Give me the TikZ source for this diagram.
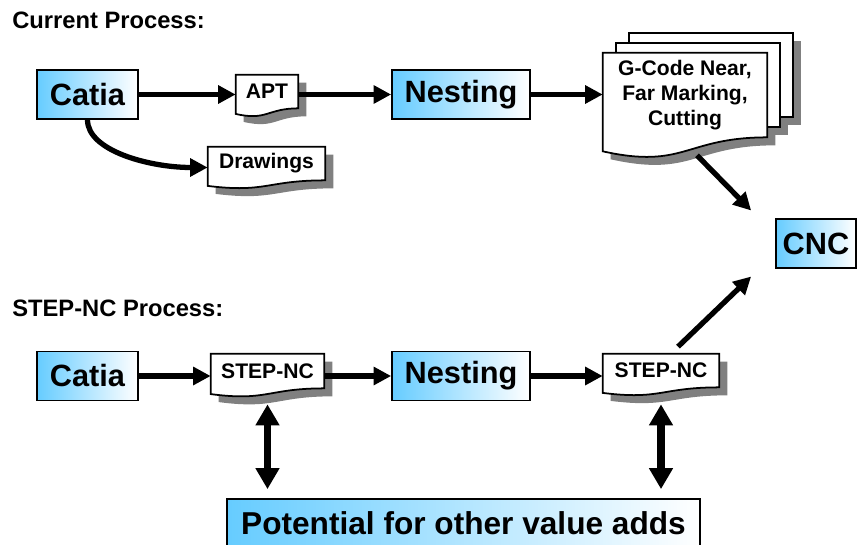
\documentclass[tikz,border=0pt]{standalone}
\usepackage{fontspec}
\setmainfont{Liberation Sans}
\usetikzlibrary{arrows.meta,calc,backgrounds}

\definecolor{boxblue}{RGB}{102,204,255}
\definecolor{shadowgray}{RGB}{128,128,128}

% outline of a document page with a wavy bottom, around node #1
\newcommand{\docpath}[1]{(#1.north west) -- (#1.north east) -- (#1.south east)
  .. controls (#1.south) and ($(#1.south)!-0.38!(#1.north)$)
  .. ($(#1.south west)!-0.165!(#1.north west)$) -- cycle}

\begin{document}
\begin{tikzpicture}[x=0.02cm, y=-0.02cm,
	proc/.style={draw, line width=1pt, left color=boxblue, right color=white, inner sep=0pt,
		minimum height=0.98cm, font=\fontsize{17.5}{20}\selectfont\bfseries},
	doc/.style={inner sep=0pt, align=center, font=\fontsize{12}{14.2}\selectfont\bfseries},
	docline/.style={draw, line width=1pt},
	ttl/.style={anchor=base west, inner sep=0pt, font=\fontsize{13.5}{16}\selectfont\bfseries},
	arr/.style={line width=3pt, -{Triangle[length=10pt,width=10pt]}},
	dbl/.style={line width=4.5pt, {Triangle[length=12pt,width=13pt]}-{Triangle[length=12pt,width=13pt]}}]
	\clip (0,0) rectangle (857,544);

	\node[ttl] (curttl) at (12,29) {Current Process:};
	\node[ttl] (stepttl) at (12,316) {STEP-NC Process:};

	% current process
	\node[proc, minimum width=2.02cm] (catia1) at (87.5,94.5) {Catia};
	\node[doc, minimum width=1.24cm, minimum height=0.66cm] (apt) at (267,91.5) {APT};
	\node[proc, minimum width=2.76cm] (nest1) at (461,94.5) {Nesting};
	\node[doc, minimum width=3.28cm, minimum height=1.68cm] (gcode) at (685,95) {G-Code Near,\\Far Marking,\\Cutting};
	\node[doc, minimum width=2.34cm, minimum height=0.66cm] (drawings) at (266.5,163.5) {Drawings};
	\node[proc, minimum width=1.6cm] (cnc) at (816,243.5) {CNC};

	% STEP-NC process
	\node[proc, minimum width=2.02cm] (catia2) at (87.5,376) {Catia};
	\node[doc, minimum width=2.26cm, minimum height=0.68cm] (step1) at (267.5,371) {STEP-NC};
	\node[proc, minimum width=2.76cm] (nest2) at (461,376) {Nesting};
	\node[doc, minimum width=2.32cm, minimum height=0.66cm] (step2) at (661,370.5) {STEP-NC};
	\node[proc, minimum width=9.46cm, font=\fontsize{18}{21}\selectfont\bfseries] (potential) at (463.5,523.5) {Potential for other value adds};

	\begin{scope}[on background layer]
		\foreach \dx/\dy in {26/-20,13/-10}
			\fill[shadowgray] ([shift={(\dx+8,\dy+8)}]gcode.north west) rectangle ([shift={(\dx+8,\dy+8)}]gcode.south east);
		\foreach \d in {apt,drawings,gcode,step1,step2}
			\fill[shadowgray, transform canvas={shift={(8,8)}}] \docpath{\d};
		\foreach \dx/\dy in {26/-20,13/-10}
			\draw[docline, fill=white] ([shift={(\dx,\dy)}]gcode.north west) rectangle ([shift={(\dx,\dy)}]gcode.south east);
		\foreach \d in {apt,drawings,gcode,step1,step2}
			\draw[docline, fill=white] \docpath{\d};
	\end{scope}

	\coordinate (cncup) at ([shift={(-24,-33)}]cnc.west);
	\coordinate (cnclow) at ([shift={(-24,33)}]cnc.west);

	\draw[arr] (catia1.east) -- (catia1.east -| apt.west);
	\draw[arr] (catia1.east -| apt.east) -- (nest1.west);
	\draw[arr] (nest1.east) -- (nest1.east -| gcode.west);
	\draw[arr] (catia1.south) .. controls +(0,31) and +(-58,0) .. ([shift={(0,4)}]drawings.west);
	\draw[arr] ([shift={(12,18)}]gcode.south) -- (cncup);

	\draw[arr] (catia2.east) -- (catia2.east -| step1.west);
	\draw[arr] (catia2.east -| step1.east) -- (nest2.west);
	\draw[arr] (nest2.east) -- (nest2.east -| step2.west);
	\draw[arr] ([shift={(17,-7)}]step2.north) -- (cnclow);
	\draw[dbl, shorten <=0.32cm, shorten >=0.18cm] (step1.south) -- (step1.south |- potential.north);
	\draw[dbl, shorten <=0.34cm, shorten >=0.18cm] (step2.south) -- (step2.south |- potential.north);
\end{tikzpicture}
\end{document}
